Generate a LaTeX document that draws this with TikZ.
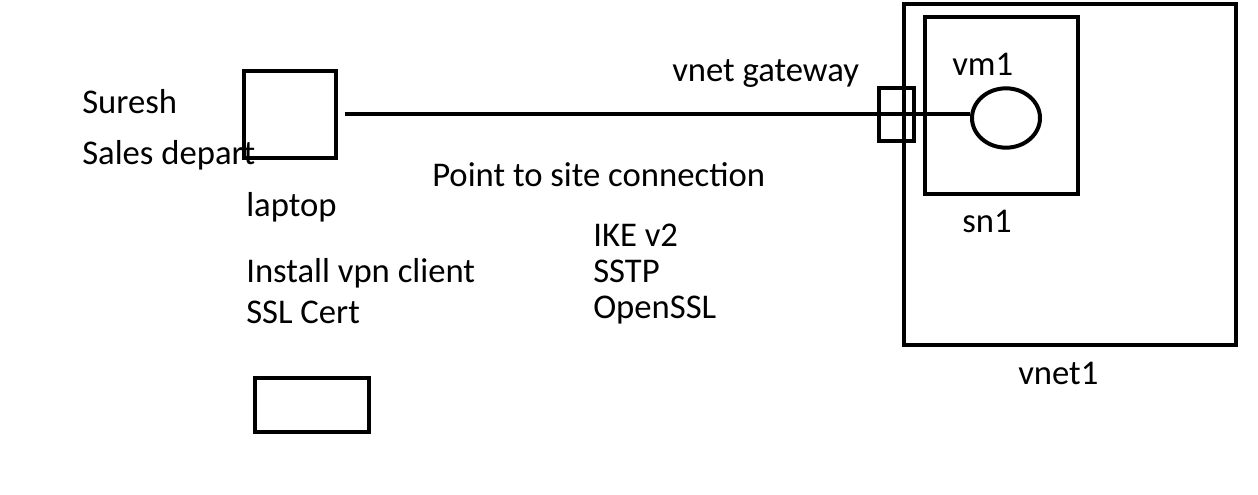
\documentclass[tikz,border=0pt]{standalone}
\usepackage{fontspec}
\setmainfont{Carlito}
\usetikzlibrary{shapes.geometric}
\usetikzlibrary{positioning}

\begin{document}
\begin{tikzpicture}[x=0.75pt,y=0.75pt,yscale=-1,xscale=1,
  thickbox/.style={draw, line width=3pt, inner sep=0pt},
  lbl/.style={anchor=base west, inner sep=0pt, font=\fontsize{26}{31}\selectfont}]

\useasboundingbox (0,0) rectangle (1258,495);

% Laptop side
\node [thickbox, minimum width=69pt, minimum height=65.25pt]  (laptop) at (290,114.5) {};
\node [thickbox, minimum width=85.5pt, minimum height=40.5pt] (device) at (312,405) {};

% Azure side
\node [thickbox, minimum width=249pt, minimum height=255.75pt]    (vnet) at (1070,174.5) {};
\node [thickbox, minimum width=114.75pt, minimum height=132.75pt] (subnet) at (1001.5,105.5) {};
\node [thickbox, line width=2.5pt, minimum width=26.25pt, minimum height=39.75pt] (gateway) at (896.5,114.5) {};
\node [thickbox, ellipse, minimum width=51pt, minimum height=44.5pt] (vm) at (1006,118) {};

% Connection
\draw [line width=3pt, shorten <=5pt] (laptop.east) -- (vm.west |- laptop.east) ;

% Labels
\node [lbl] (suresh)   at (82,114)   {Suresh};
\node [lbl] (sales)    at (82,165)   {Sales depart};
\node [lbl] (laplbl)   at (246,217)  {laptop};
\node [lbl] (install)  at (246,283)  {Install vpn client};
\node [lbl] (cert)     at (246,324)  {SSL Cert};
\node [lbl] (gwlbl)    at (672,82)   {vnet gateway};
\node [lbl] (p2s)      at (432,187)  {Point to site connection};
\node [lbl] (ike)      at (593,247)  {IKE v2};
\node [lbl] (sstp)     at (593,283)  {SSTP};
\node [lbl] (openssl)  at (593,319)  {OpenSSL};
\node [lbl] (vmlbl)    at (952,76)   {vm1};
\node [lbl] (snlbl)    at (962,233)  {sn1};
\node [lbl] (vnetlbl)  at (1018,385) {vnet1};

\end{tikzpicture}
\end{document}
